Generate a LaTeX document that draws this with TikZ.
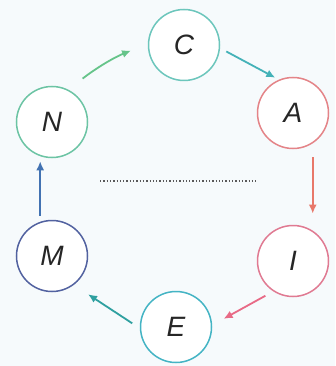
\documentclass[tikz,border=0pt]{standalone}
\usepackage{fontspec}
\setmainfont{Liberation Sans}
\usetikzlibrary{arrows.meta}
\definecolor{bg}{HTML}{F6FAFC}
\definecolor{cC}{HTML}{6CC6BC}
\definecolor{cN}{HTML}{6CC4A4}
\definecolor{cA}{HTML}{E48488}
\definecolor{cI}{HTML}{E07A92}
\definecolor{cE}{HTML}{44B4C4}
\definecolor{cM}{HTML}{5262A0}
\definecolor{aNC}{HTML}{66C48A}
\definecolor{aCA}{HTML}{44B2B8}
\definecolor{aAI}{HTML}{E8786A}
\definecolor{aIE}{HTML}{E86A86}
\definecolor{aEM}{HTML}{2FA0A0}
\definecolor{aMN}{HTML}{4272B2}
\tikzset{
  letter/.style={circle,draw,line width=1.5pt,minimum size=71pt,inner sep=0pt,fill=white,font=\fontsize{28}{30}\selectfont\itshape,text=black!85},
  conn/.style={line width=1.8pt,-{Latex[length=9pt,width=8pt]}}
}
\begin{document}
\begin{tikzpicture}[x=1pt,y=-1pt]
\fill[bg] (0,0) rectangle (335,366);
\useasboundingbox (0,0) rectangle (335,366);
\node[letter,draw=cC] (C) at (184,45) {C};
\node[letter,draw=cA] (A) at (293,113) {A};
\node[letter,draw=cI] (I) at (293,261) {I};
\node[letter,draw=cE] (E) at (176,327) {E};
\node[letter,draw=cM] (M) at (52,256) {M};
\node[letter,draw=cN] (N) at (52,122) {N};
\coordinate (d1) at (100,181);
\coordinate (d2) at (258,181);
\draw[black!65,line width=1.3pt,dash pattern=on 1.3pt off 2pt] (d1) -- (d2);
\draw[conn,aNC,shorten <=18pt,shorten >=18pt] (N.63) to[bend left=8] (C.178);
\draw[conn,aCA,shorten <=7pt,shorten >=4pt] (C.-5) -- (A.113);
\draw[conn,aAI,shorten <=14pt,shorten >=17pt] (A.-57) -- (I.57);
\draw[conn,aIE,shorten <=9pt,shorten >=13pt] (I.-123) -- (E.3.5);
\draw[conn,aEM,shorten <=9pt,shorten >=17pt] (E.182.5) -- (M.-53);
\draw[conn,aMN,shorten <=6pt,shorten >=5pt] (M.109) -- (N.-109);
\end{tikzpicture}
\end{document}
